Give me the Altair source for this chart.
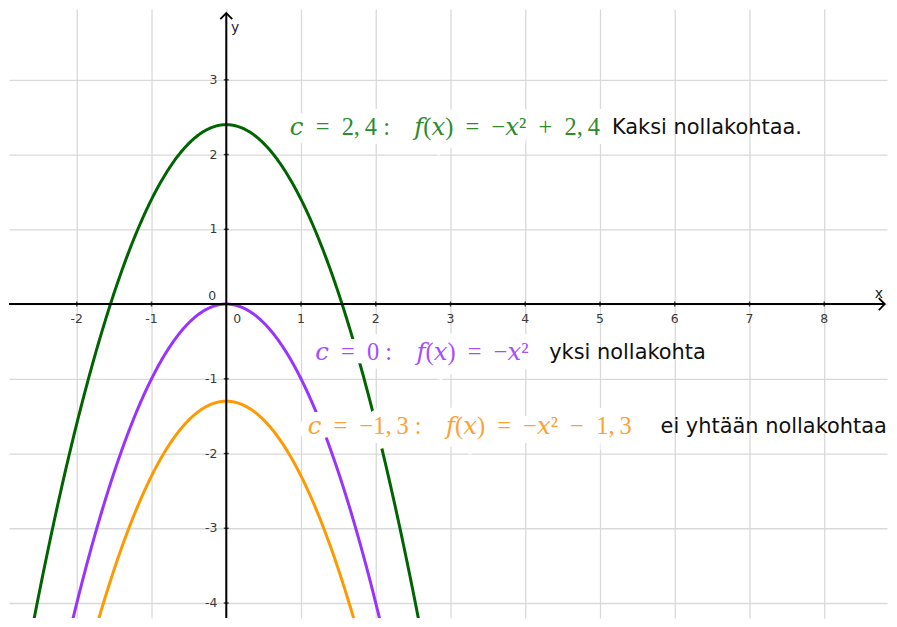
import altair as alt

# ---- data ----
c_values = [2.4, 0, -1.3]
curve_colors = ["#006400", "#9933ff", "#ff9900"]
text_colors = ["#2e8b2e", "#a64dff", "#ffa033"]
EN = "\u2002"
TH = "\u2009"
formula_texts = [
    f"𝑐{EN}={EN}2,{TH}4 :{EN}{EN}𝑓(𝑥){EN}={EN}−𝑥²{EN}+{EN}2,{TH}4",
    f"𝑐{EN}={EN}0 :{EN}{EN}𝑓(𝑥){EN}={EN}−𝑥²",
    f"𝑐{EN}={EN}−1,{TH}3 :{EN}{EN}𝑓(𝑥){EN}={EN}−𝑥²{EN}−{EN}1,{TH}3",
]
note_texts = ["Kaksi nollakohtaa.", "yksi nollakohta", "ei yhtään nollakohtaa"]
x_ticks = [-2, -1, 1, 2, 3, 4, 5, 6, 7, 8]
x_tick_labels = ["-2", "-1", "1", "2", "3", "4", "5", "6", "7", "8"]
y_ticks = [-4, -3, -2, -1, 1, 2, 3]
y_tick_labels = ["-4", "-3", "-2", "-1", "1", "2", "3"]
grid_x = [-2, -1, 0, 1, 2, 3, 4, 5, 6, 7, 8]
grid_y = [-4, -3, -2, -1, 0, 1, 2, 3]

X_DOMAIN = [-2.907, 8.84]
Y_DOMAIN = [-4.2, 3.947]

xs = alt.Scale(domain=X_DOMAIN, nice=False, zero=False)
ys = alt.Scale(domain=Y_DOMAIN, nice=False, zero=False)

grid_axis_x = alt.Axis(values=grid_x, grid=True, gridColor="#d9d9d9", gridWidth=1.3,
                       labels=False, ticks=False, domain=False, title=None)
grid_axis_y = alt.Axis(values=grid_y, grid=True, gridColor="#d9d9d9", gridWidth=1.3,
                       labels=False, ticks=False, domain=False, title=None)

seq = alt.sequence(-2.95, 3.01, 0.01, as_="x")

curves = []
for c, col in zip(c_values, curve_colors):
    curves.append(
        alt.Chart(seq)
        .transform_calculate(y=f"-datum.x*datum.x + ({c})")
        .mark_line(color=col, strokeWidth=3, clip=True)
        .encode(x=alt.X("x:Q", scale=xs, axis=grid_axis_x),
                y=alt.Y("y:Q", scale=ys, axis=grid_axis_y))
    )

x_axis_line = alt.Chart().mark_rule(color="black", strokeWidth=2).encode(
    y=alt.datum(0), x=alt.datum(X_DOMAIN[0]), x2=alt.datum(8.81))
y_axis_line = alt.Chart().mark_rule(color="black", strokeWidth=2).encode(
    x=alt.datum(0), y=alt.datum(Y_DOMAIN[0]), y2=alt.datum(3.893))

xt = alt.Data(values=[{"v": v, "t": t} for v, t in zip(x_ticks, x_tick_labels)])
yt = alt.Data(values=[{"v": v, "t": t} for v, t in zip(y_ticks, y_tick_labels)])

x_tick_marks = alt.Chart(xt).mark_tick(color="black", size=5, thickness=1.5, orient="vertical").encode(
    x="v:Q", y=alt.datum(0))
y_tick_marks = alt.Chart(yt).mark_tick(color="black", size=5, thickness=1.5, orient="horizontal").encode(
    y="v:Q", x=alt.datum(0))

tick_font = dict(font="DejaVu Sans", fontSize=12.5, color="#3a3a3a")
x_tick_text = alt.Chart(xt).mark_text(align="center", baseline="middle", dy=15, **tick_font).encode(
    x="v:Q", y=alt.datum(0), text="t:N")
y_tick_text = alt.Chart(yt).mark_text(align="right", baseline="middle", dx=-9, **tick_font).encode(
    y="v:Q", x=alt.datum(0), text="t:N")
zero_a = alt.Chart().mark_text(align="center", baseline="middle", dx=11, dy=15, **tick_font).encode(
    x=alt.datum(0), y=alt.datum(0), text=alt.value("0"))
zero_b = alt.Chart().mark_text(align="center", baseline="middle", dx=-14, dy=-8, **tick_font).encode(
    x=alt.datum(0), y=alt.datum(0), text=alt.value("0"))

name_font = dict(font="DejaVu Sans", fontSize=14, color="#222222")
x_name = alt.Chart().mark_text(align="center", baseline="middle", **name_font).encode(
    x=alt.datum(8.73), y=alt.datum(0.14), text=alt.value("x"))
y_name = alt.Chart().mark_text(align="center", baseline="middle", **name_font).encode(
    x=alt.datum(0.12), y=alt.datum(3.69), text=alt.value("y"))

x_arrow = alt.Chart().mark_point(shape="M-1,-1L0,0L-1,1", filled=False, stroke="black",
                                 strokeWidth=1.8, size=144, opacity=1).encode(
    x=alt.datum(8.81), y=alt.datum(0))
y_arrow = alt.Chart().mark_point(shape="M-1,1L0,0L1,1", filled=False, stroke="black",
                                 strokeWidth=1.8, size=144, opacity=1).encode(
    x=alt.datum(0), y=alt.datum(3.893))

formula_pos = [(0.85, 2.36), (1.19, -0.65), (1.09, -1.65)]
note_pos = [(5.16, 2.36), (4.32, -0.65), (5.81, -1.65)]

FORMULA_FONT = "Liberation Serif, DejaVu Serif"
FSIZE = 24.5
labels = []
for i in range(3):
    fx, fy = formula_pos[i]
    nx, ny = note_pos[i]
    labels.append(
        alt.Chart().mark_text(align="left", baseline="middle", font=FORMULA_FONT, fontSize=FSIZE,
                              stroke="white", strokeWidth=18, fill="white").encode(
            x=alt.datum(fx), y=alt.datum(fy), text=alt.value(formula_texts[i]))
    )
    labels.append(
        alt.Chart().mark_text(align="left", baseline="middle", font=FORMULA_FONT, fontSize=FSIZE,
                              color=text_colors[i]).encode(
            x=alt.datum(fx), y=alt.datum(fy), text=alt.value(formula_texts[i]))
    )
    labels.append(
        alt.Chart().mark_text(align="left", baseline="middle", font="DejaVu Sans", fontSize=21,
                              color="#111111").encode(
            x=alt.datum(nx), y=alt.datum(ny), text=alt.value(note_texts[i]))
    )

chart = alt.layer(
    *curves, x_axis_line, y_axis_line, x_tick_marks, y_tick_marks, x_tick_text, y_tick_text,
    zero_a, zero_b, x_name, y_name, x_arrow, y_arrow, *labels
).resolve_scale(x="shared", y="shared").properties(
    width=881, height=611, padding=0
).configure_view(stroke=None)

chart.save("out.html", embed_options={"renderer": "svg", "actions": False})
